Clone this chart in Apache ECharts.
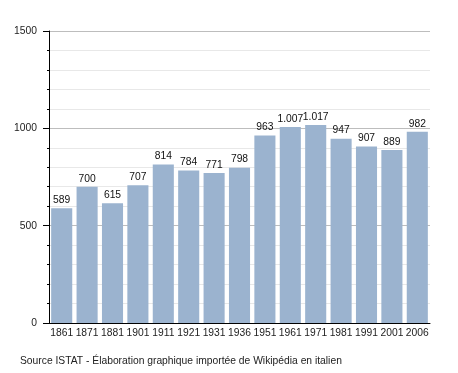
<!DOCTYPE html>
<html><head><meta charset="utf-8">
<script src="https://cdn.jsdelivr.net/npm/echarts@6/dist/echarts.min.js"></script>
<style>html,body{margin:0;padding:0;background:#fff}#c{width:458px;height:373px}</style>
</head><body><div id="c"></div>
<script>
var years = ['1861','1871','1881','1901','1911','1921','1931','1936','1951','1961','1971','1981','1991','2001','2006'];
var population = [589,700,615,707,814,784,771,798,963,1007,1017,947,907,889,982];
var yTicks = [0,500,1000,1500];
var sourceText = 'Source ISTAT - Élaboration graphique importée de Wikipédia en italien';

function fmt(v){ return String(v).replace(/\B(?=(\d{3})+(?!\d))/g,'.'); }

var FF = 'Liberation Sans, Arial, sans-serif';
var chart = echarts.init(document.getElementById('c'), null, {renderer:'canvas'});
chart.setOption({
  animation:false,
  backgroundColor:'#fff',
  textStyle:{fontFamily:FF},
  grid:{left:49,right:28,top:31,bottom:50,containLabel:false},
  graphic:[{type:'text',left:20,top:356,style:{text:sourceText,fontSize:10.3,fill:'#222',fontFamily:FF}}],
  xAxis:{
    type:'category',data:years,
    axisLine:{lineStyle:{color:'#000',width:1}},
    axisTick:{show:false},
    axisLabel:{color:'#222',fontSize:10.3,margin:5,interval:0}
  },
  yAxis:{
    type:'value',min:yTicks[0],max:yTicks[yTicks.length-1],interval:500,
    axisLine:{show:true,lineStyle:{color:'#000',width:1}},
    axisTick:{show:true,length:6,lineStyle:{color:'#000'}},
    minorTick:{show:true,splitNumber:5,length:2,lineStyle:{color:'#000'}},
    splitLine:{show:true,lineStyle:{color:'#bdbdbd',width:1}},
    minorSplitLine:{show:true,lineStyle:{color:'#e8e8e8',width:1}},
    axisLabel:{color:'#222',fontSize:10.3,margin:12,formatter:function(v){return String(v);}}
  },
  series:[{
    type:'bar',data:population,barCategoryGap:'17%',
    itemStyle:{color:'#9bb3cf'},
    label:{show:true,position:'top',color:'#111',fontSize:10.3,distance:3,formatter:function(p){return fmt(p.value);}}
  }]
});
</script></body></html>
